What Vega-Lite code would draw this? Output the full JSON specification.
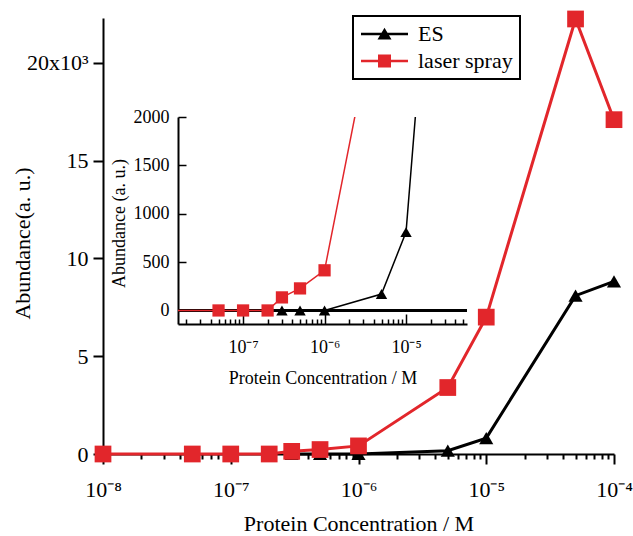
{
  "$schema": "https://vega.github.io/schema/vega-lite/v6.json",
  "width": 289,
  "height": 207,
  "autosize": {"type": "none"},
  "padding": {"left": 178, "top": 117, "right": 166, "bottom": 212},
  "background": "white",
  "config": {
    "view": {"stroke": null},
    "axis": {"grid": false, "labelFont": "Liberation Serif", "titleFont": "Liberation Serif", "titleFontWeight": "normal", "domainColor": "black", "tickColor": "black", "labelColor": "black", "titleColor": "black", "labelFlush": false, "labelOverlap": false, "labelBound": false}
  },
  "data": {
    "values": [
      {"series": "ES", "conc": 3e-7, "abundance": 0},
      {"series": "ES", "conc": 5e-7, "abundance": 0},
      {"series": "ES", "conc": 1e-6, "abundance": 0},
      {"series": "ES", "conc": 5e-6, "abundance": 170},
      {"series": "ES", "conc": 1e-5, "abundance": 810},
      {"series": "ES", "conc": 5e-5, "abundance": 8100},
      {"series": "ES", "conc": 1e-4, "abundance": 8830},
      {"series": "laser spray", "conc": 1e-8, "abundance": 0},
      {"series": "laser spray", "conc": 5e-8, "abundance": 0},
      {"series": "laser spray", "conc": 1e-7, "abundance": 0},
      {"series": "laser spray", "conc": 2e-7, "abundance": 0},
      {"series": "laser spray", "conc": 3e-7, "abundance": 135},
      {"series": "laser spray", "conc": 5e-7, "abundance": 228},
      {"series": "laser spray", "conc": 1e-6, "abundance": 415},
      {"series": "laser spray", "conc": 5e-6, "abundance": 3400},
      {"series": "laser spray", "conc": 1e-5, "abundance": 7000},
      {"series": "laser spray", "conc": 5e-5, "abundance": 22250},
      {"series": "laser spray", "conc": 1e-4, "abundance": 17100}
    ]
  },
  "layer": [
    {
      "encoding": {
        "x": {"field": "conc", "type": "quantitative",
          "scale": {"type": "log", "domain": [1e-8, 1e-4], "range": [-75, 436], "nice": false},
          "axis": {"orient": "bottom", "offset": 130,
            "values": [1e-8,2e-8,3e-8,4e-8,5e-8,6e-8,7e-8,8e-8,9e-8,1e-7,2e-7,3e-7,4e-7,5e-7,6e-7,7e-7,8e-7,9e-7,1e-6,2e-6,3e-6,4e-6,5e-6,6e-6,7e-6,8e-6,9e-6,1e-5,2e-5,3e-5,4e-5,5e-5,6e-5,7e-5,8e-5,9e-5,1e-4],
            "labelExpr": "abs(log(datum.value)/LN10 - round(log(datum.value)/LN10)) > 0.01 ? '' : round(log(datum.value)/LN10) == -8 ? '10⁻⁸' : round(log(datum.value)/LN10) == -7 ? '10⁻⁷' : round(log(datum.value)/LN10) == -6 ? '10⁻⁶' : round(log(datum.value)/LN10) == -5 ? '10⁻⁵' : '10⁻⁴'",
            "tickSize": {"condition": {"test": "abs(log(datum.value)/LN10 - round(log(datum.value)/LN10)) < 0.01", "value": 10}, "value": 5},
            "tickWidth": 2, "domainWidth": 2, "labelFontSize": 22, "labelPadding": 15,
            "title": "Protein Concentration / M", "titleFontSize": 22, "titleBaseline": "alphabetic", "titleY": 76}},
        "y": {"field": "abundance", "type": "quantitative",
          "scale": {"domain": [0, 22300], "range": [337, -99], "nice": false, "zero": false},
          "axis": {"orient": "left", "offset": 75, "values": [0, 5000, 10000, 15000, 20000],
            "labelExpr": "datum.value == 20000 ? '20x10³' : '' + (datum.value / 1000)",
            "tickSize": 10, "tickWidth": 2, "domainWidth": 2, "labelFontSize": 22, "labelPadding": 5,
            "title": "Abundance(a. u.)", "titleFontSize": 22, "titleX": -81, "titleY": 126, "titleBaseline": "middle"}}
      },
      "layer": [
        {"transform": [{"filter": "datum.series == 'ES'"}],
         "mark": {"type": "line", "color": "black", "strokeWidth": 3,
           "point": {"shape": "triangle-up", "size": 200, "filled": true, "color": "black", "opacity": 1}}},
        {"transform": [{"filter": "datum.series == 'laser spray'"}],
         "mark": {"type": "line", "color": "#e2262b", "strokeWidth": 3,
           "point": {"shape": "square", "size": 280, "filled": true, "color": "#e2262b", "opacity": 1}}}
      ]
    },
    {
      "layer": [
        {"mark": {"type": "rule", "color": "black", "strokeWidth": 1.5},
         "encoding": {"y": {"datum": 0, "type": "quantitative", "scale": {"domain": [-140, 2000], "nice": false, "zero": false}}}},
        {"transform": [{"filter": "datum.series == 'ES'"}],
         "mark": {"type": "line", "color": "black", "strokeWidth": 1.5, "clip": true,
           "point": {"shape": "triangle-up", "size": 130, "filled": true, "color": "black", "opacity": 1, "clip": true}},
         "encoding": {
           "x": {"field": "conc", "type": "quantitative",
             "scale": {"type": "log", "domain": [1.59e-8, 5.6e-5], "nice": false},
             "axis": {"orient": "bottom",
               "values": [2e-8,3e-8,4e-8,5e-8,6e-8,7e-8,8e-8,9e-8,1e-7,2e-7,3e-7,4e-7,5e-7,6e-7,7e-7,8e-7,9e-7,1e-6,2e-6,3e-6,4e-6,5e-6,6e-6,7e-6,8e-6,9e-6,1e-5,2e-5,3e-5,4e-5,5e-5],
               "labelExpr": "abs(log(datum.value)/LN10 - round(log(datum.value)/LN10)) > 0.01 ? '' : round(log(datum.value)/LN10) == -7 ? '10⁻⁷' : round(log(datum.value)/LN10) == -6 ? '10⁻⁶' : '10⁻⁵'",
               "tickSize": {"condition": {"test": "abs(log(datum.value)/LN10 - round(log(datum.value)/LN10)) < 0.01", "value": -10}, "value": -5},
               "tickWidth": 1.5, "domainWidth": 2, "labelFontSize": 18, "labelPadding": 24,
               "title": "Protein Concentration / M", "titleFontSize": 18, "titleBaseline": "middle", "titleY": 54}},
           "y": {"field": "abundance", "type": "quantitative",
             "scale": {"domain": [-140, 2000], "nice": false, "zero": false},
             "axis": {"orient": "left", "values": [0, 500, 1000, 1500, 2000], "format": "d",
               "tickSize": {"condition": {"test": "datum.value >= 0", "value": -8}, "value": -8},
               "tickWidth": 1.5, "domainWidth": 2, "labelFontSize": 18, "labelPadding": 17,
               "title": "Abundance (a. u.)", "titleFontSize": 18, "titleX": -59, "titleY": 106, "titleBaseline": "middle"}}
         }},
        {"transform": [{"filter": "datum.series == 'laser spray'"}],
         "mark": {"type": "line", "color": "#e2262b", "strokeWidth": 1.5, "clip": true,
           "point": {"shape": "square", "size": 150, "filled": true, "color": "#e2262b", "opacity": 1, "clip": true}},
         "encoding": {
           "x": {"field": "conc", "type": "quantitative", "scale": {"type": "log", "domain": [1.59e-8, 5.6e-5], "nice": false}},
           "y": {"field": "abundance", "type": "quantitative", "scale": {"domain": [-140, 2000], "nice": false, "zero": false}}
         }}
      ]
    },
    {
      "transform": [{"filter": "datum.series == 'none'"}],
      "mark": {"type": "point", "filled": true, "opacity": 1},
      "encoding": {
        "color": {"field": "series", "type": "nominal",
          "scale": {"domain": ["ES", "laser spray"], "range": ["black", "#e2262b"]},
          "legend": {"orient": "none", "legendX": 175, "legendY": -101, "title": null,
            "labelFont": "Liberation Serif", "labelFontSize": 22, "labelColor": "black",
            "symbolSize": 400, "symbolStrokeWidth": 0, "symbolOpacity": 1,
            "strokeColor": "black", "fillColor": "white",
            "padding": 7, "rowPadding": 5, "labelOffset": 36,
            "encode": {"legend": {"update": {"strokeWidth": {"value": 2}}}}}},
        "shape": {"field": "series", "type": "nominal",
          "scale": {"domain": ["ES", "laser spray"], "range": ["M-1,-0.12H3.7V0.12H-1Z M1.35,-0.62L2.05,0.55L0.65,0.55Z", "M-1,-0.12H3.7V0.12H-1Z M0.7,-0.65H2V0.65H0.7Z"]}}
      }
    }
  ],
  "resolve": {"scale": {"x": "independent", "y": "independent"}}
}
